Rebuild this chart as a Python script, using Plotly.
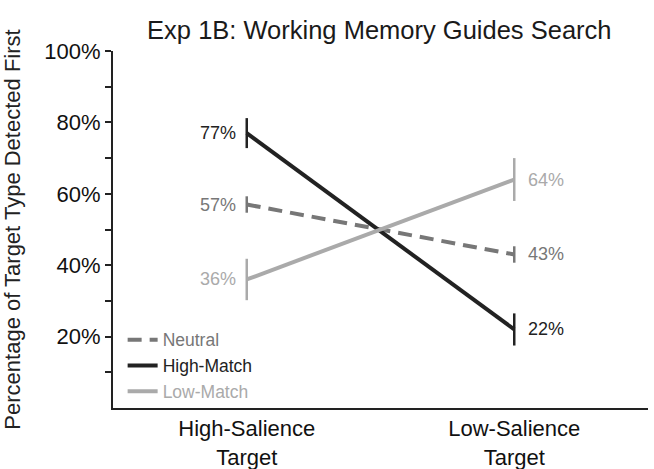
import plotly.graph_objects as go

categories = ["High-Salience<br>Target", "Low-Salience<br>Target"]
series_names = ["Neutral", "High-Match", "Low-Match"]
neutral = [57, 43]
high_match = [77, 22]
low_match = [36, 64]
neutral_err = [2.3, 2.3]
high_err = [4.2, 4.5]
low_err = [5.8, 6.0]
ytick_vals = [20, 40, 60, 80, 100]
ytick_text = ["20%", "40%", "60%", "80%", "100%"]

colors = {"Neutral": "#777777", "High-Match": "#222222", "Low-Match": "#aaaaaa"}
dashes = {"Neutral": "14px,8px", "High-Match": "solid", "Low-Match": "solid"}
values = {"Neutral": neutral, "High-Match": high_match, "Low-Match": low_match}
errs = {"Neutral": neutral_err, "High-Match": high_err, "Low-Match": low_err}

xpos = [0, 1]
fig = go.Figure()
for name in series_names:
    c = colors[name]
    fig.add_trace(go.Scatter(
        x=xpos, y=values[name], mode="lines",
        name=f"<span style='color:{c}'>{name}</span>",
        line=dict(color=c, width=4, dash=dashes[name]),
        error_y=dict(type="data", array=errs[name], visible=True,
                     width=0, thickness=2.5, color=c),
    ))

annotations = []
for name in series_names:
    c = colors[name]
    for i, v in enumerate(values[name]):
        annotations.append(dict(
            x=xpos[i], y=v, xref="x", yref="y", text=f"{v}%",
            showarrow=False, font=dict(size=18, color=c),
            xanchor="right" if i == 0 else "left",
            xshift=-9 if i == 0 else 12,
        ))

fig.update_layout(
    width=654, height=469,
    margin=dict(l=113, r=6, t=51, b=61),
    plot_bgcolor="white", paper_bgcolor="white",
    font=dict(family="Liberation Sans, Arial, sans-serif", color="#222222"),
    title=dict(text="Exp 1B: Working Memory Guides Search",
               x=0.58, xanchor="center", y=0.935, yanchor="middle",
               font=dict(size=25.5, color="#1a1a1a")),
    annotations=annotations,
    showlegend=True,
    legend=dict(x=0.018, y=-0.005, xanchor="left", yanchor="bottom",
                bgcolor="rgba(0,0,0,0)", font=dict(size=17.5),
                tracegroupgap=0, itemwidth=30),
    xaxis=dict(range=[-0.5, 1.5], tickvals=xpos, ticktext=categories,
               showline=True, linecolor="#222222", linewidth=2,
               ticks="", showgrid=False, zeroline=False, automargin=False,
               tickfont=dict(size=22, color="#111111")),
    yaxis=dict(range=[0, 100], tickvals=ytick_vals, ticktext=ytick_text,
               showline=True, linecolor="#222222", linewidth=2,
               ticks="outside", ticklen=6, tickwidth=2, tickcolor="#222222",
               minor=dict(tickvals=[10, 30, 50, 70, 90], ticks="outside",
                          ticklen=6, tickwidth=2, tickcolor="#222222"),
               showgrid=False, zeroline=False, automargin=False,
               tickfont=dict(size=22, color="#111111"),
               title=dict(text="Percentage of Target Type Detected First",
                          font=dict(size=22, color="#222222"), standoff=20)),
)

fig.write_html("out.html", config={"displayModeBar": False},
               post_script="document.body.style.margin='0';")
